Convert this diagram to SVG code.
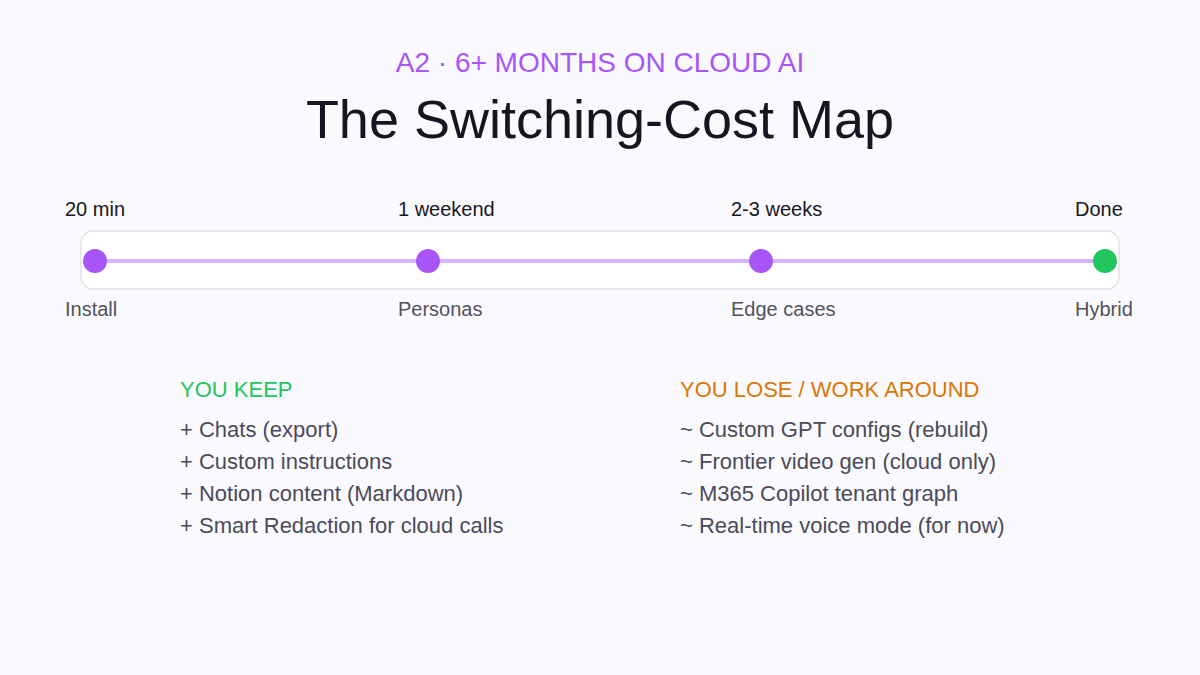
<svg xmlns="http://www.w3.org/2000/svg" width="1200" height="675" viewBox="0 0 1200 675">
<style>
text{font-family:"Liberation Sans",Arial,sans-serif}
.top{font-size:20px;fill:#18181b}
.bot{font-size:20px;fill:#52525b}
.hd{font-size:22px}
.it{font-size:22px;fill:#4b4b58}
.pn{fill:#a855f7}
</style>
<rect width="1200" height="675" fill="#faf9fe"/>
<text x="600" y="72" text-anchor="middle" font-size="28" fill="#a855f7">A2 · 6+ MONTHS ON CLOUD AI</text>
<text x="600" y="138" text-anchor="middle" font-size="54" fill="#161622">The Switching-Cost Map</text>
<g id="track">
<rect x="81" y="231" width="1038" height="58" rx="12" fill="#ffffff" stroke="#e4e4e7" stroke-width="1.5"/>
</g>
<g id="connectors">
<line x1="95" y1="261" x2="1105" y2="261" stroke="#d8b4fe" stroke-width="4"/>
</g>
<g id="n-install"><circle cx="95" cy="261" r="12" class="pn"/><text x="65" y="216" class="top">20 min</text><text x="65" y="316" class="bot">Install</text></g>
<g id="n-personas"><circle cx="428" cy="261" r="12" class="pn"/><text x="398" y="216" class="top">1 weekend</text><text x="398" y="316" class="bot">Personas</text></g>
<g id="n-edge"><circle cx="761" cy="261" r="12" class="pn"/><text x="731" y="216" class="top">2-3 weeks</text><text x="731" y="316" class="bot">Edge cases</text></g>
<g id="n-hybrid"><circle cx="1105" cy="261" r="12" fill="#22c55e"/><text x="1075" y="216" class="top">Done</text><text x="1075" y="316" class="bot">Hybrid</text></g>
<g id="keep">
<text x="180" y="397" class="hd" fill="#22c55e">YOU KEEP</text>
<text x="180" y="437" class="it">+ Chats (export)</text>
<text x="180" y="469" class="it">+ Custom instructions</text>
<text x="180" y="501" class="it">+ Notion content (Markdown)</text>
<text x="180" y="533" class="it">+ Smart Redaction for cloud calls</text>
</g>
<g id="lose">
<text x="680" y="397" class="hd" fill="#d97706">YOU LOSE / WORK AROUND</text>
<text x="680" y="437" class="it">~ Custom GPT configs (rebuild)</text>
<text x="680" y="469" class="it">~ Frontier video gen (cloud only)</text>
<text x="680" y="501" class="it">~ M365 Copilot tenant graph</text>
<text x="680" y="533" class="it">~ Real-time voice mode (for now)</text>
</g>
</svg>
